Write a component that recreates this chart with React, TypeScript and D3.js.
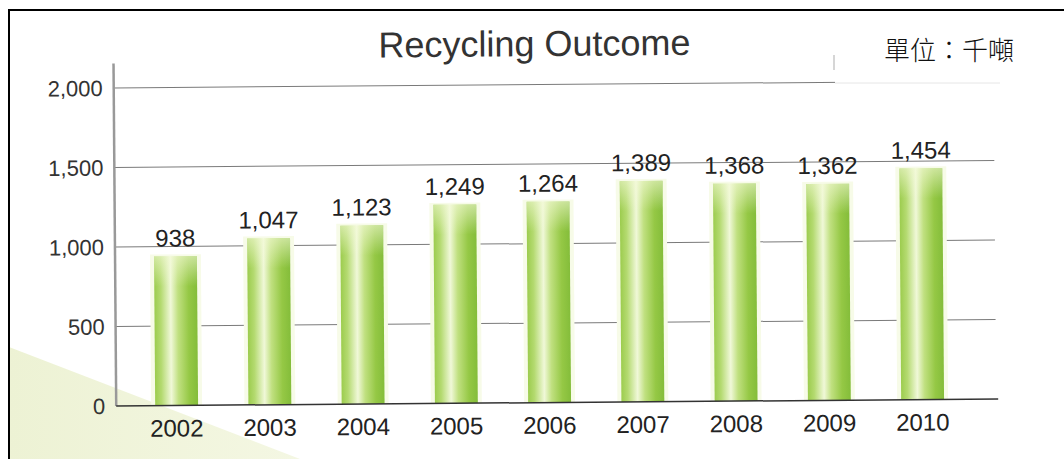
import React from "react";
import * as d3 from "d3";

const years = ["2002", "2003", "2004", "2005", "2006", "2007", "2008", "2009", "2010"];
const values = [938, 1047, 1123, 1249, 1264, 1389, 1368, 1362, 1454];
const yTicks = [0, 500, 1000, 1500, 2000];
const title = "Recycling Outcome";
const unitLabel = "單位：千噸";

export default function App() {
  const W = 1064;
  const H = 459;
  const x0 = 115;
  const step = 93.25;
  const pi = 0.54;
  const po = 0.418;
  const x1 = x0 + step * (years.length - pi + 2 * po);
  const x = d3.scaleBand<string>().domain(years).range([x0, x1]).paddingInner(pi).paddingOuter(po);
  const y = d3.scaleLinear().domain([0, 2000]).range([402.5, 84.5]);
  const fmt = d3.format(",");
  const gridEnd = 995;
  const font = "Liberation Sans, Arial, sans-serif";

  return (
    <svg width={W} height={H} style={{ position: "absolute", left: 0, top: 0, background: "#fff" }}>
      <defs>
        <linearGradient id="barGrad" x1="0" x2="1" y1="0" y2="0">
          <stop offset="0%" stopColor="#9ccc4e" />
          <stop offset="15%" stopColor="#b4da70" />
          <stop offset="38%" stopColor="#f0f8d8" />
          <stop offset="55%" stopColor="#c0e080" />
          <stop offset="80%" stopColor="#95c845" />
          <stop offset="100%" stopColor="#84bd3a" />
        </linearGradient>
        <linearGradient id="topFade" x1="0" x2="0" y1="0" y2="1">
          <stop offset="0%" stopColor="#f4fad8" stopOpacity={0.6} />
          <stop offset="100%" stopColor="#f4fad8" stopOpacity={0} />
        </linearGradient>
        <linearGradient id="triGrad" x1="0" x2="1" y1="0" y2="0">
          <stop offset="0%" stopColor="#edf2d4" />
          <stop offset="100%" stopColor="#f4f7e3" />
        </linearGradient>
      </defs>
      <rect x={0} y={0} width={W} height={H} fill="#fff" />
      {/* pale green corner */}
      <path d={`M9,347 L300,459 L9,459 Z`} fill="url(#triGrad)" />

      <g transform="rotate(-0.45, 556, 250)">
        {/* gridlines */}
        {yTicks.filter((t) => t > 0).map((t) => (
          <line key={t} x1={x0} x2={gridEnd} y1={y(t)} y2={y(t)} stroke="#7a7a7a" strokeWidth={1} />
        ))}
        {/* tick labels */}
        {yTicks.map((t) => (
          <text
            key={t}
            x={104}
            y={y(t)}
            dy="0.36em"
            textAnchor="end"
            fontFamily={font}
            fontSize={22}
            fill="#333"
          >
            {fmt(t)}
          </text>
        ))}

        {/* bars */}
        {years.map((yr, i) => {
          const bx = x(yr)!;
          const bw = x.bandwidth();
          const top = y(values[i]);
          return (
            <g key={yr}>
              <rect x={bx - 4} y={top - 2} width={bw + 8} height={y(0) - top + 2} fill="#f7fbe8" />
              <rect x={bx} y={top} width={bw} height={y(0) - top} fill="url(#barGrad)" />
              <rect x={bx} y={top} width={bw} height={Math.min(30, y(0) - top)} fill="url(#topFade)" />
              <text
                x={bx + bw / 2}
                y={top - 10}
                textAnchor="middle"
                fontFamily={font}
                fontSize={24}
                fill="#222"
              >
                {fmt(values[i])}
              </text>
              <text
                x={bx + bw / 2}
                y={y(0) + 31}
                textAnchor="middle"
                fontFamily={font}
                fontSize={24}
                fill="#222"
              >
                {yr}
              </text>
            </g>
          );
        })}

        {/* axes */}
        <line x1={x0} x2={x0} y1={60} y2={y(0)} stroke="#999" strokeWidth={2.5} />
        <line x1={x0} x2={gridEnd + 2} y1={y(0)} y2={y(0)} stroke="#333" strokeWidth={1.5} />

        {/* title */}
        <text
          x={536}
          y={56}
          textAnchor="middle"
          fontFamily={font}
          fontSize={36}
          fill="#333"
        >
          {title}
        </text>
      </g>

      {/* unit box */}
      <rect x={835} y={20} width={229} height={63} fill="#fff" />
      <line x1={835} x2={1000} y1={83} y2={83} stroke="#e6e6e6" strokeWidth={1} />
      <line x1={834} x2={834} y1={55} y2={70} stroke="#c8c8c8" strokeWidth={1.5} />
      <text
        x={949}
        y={51}
        dy="0.36em"
        textAnchor="middle"
        fontFamily="Noto Sans CJK TC, sans-serif"
        fontWeight={300}
        fontSize={26}
        fill="#111"
      >
        {unitLabel}
      </text>

      {/* frame */}
      <line x1={8} x2={W} y1={10} y2={10} stroke="#000" strokeWidth={2} />
      <line x1={9} x2={9} y1={10} y2={H} stroke="#000" strokeWidth={2} />
    </svg>
  );
}
